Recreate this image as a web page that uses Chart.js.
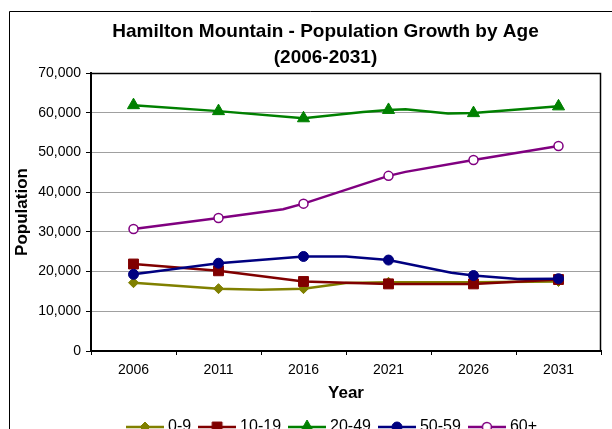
<!DOCTYPE html>
<html><head><meta charset="utf-8">
<script src="https://cdn.jsdelivr.net/npm/chart.js@4.4.1/dist/chart.umd.min.js"></script>
<style>
html,body{margin:0;padding:0;overflow:hidden;background:#fff;width:612px;height:429px}
#wrap{position:absolute;left:0;top:0;width:612px;height:448px}
</style>
</head><body><div id="wrap"><canvas id="c" width="612" height="448"></canvas></div>
<script>
// ---- data ----
const categories = ['2006','2011','2016','2021','2026','2031'];
const markerYears = [2006, 2011, 2016, 2021, 2026, 2031];
const seriesNames = ['0-9', '10-19', '20-49', '50-59', '60+'];

const years0to9 = [2006, 2011, 2013.5, 2016, 2018.5, 2021, 2026, 2031];
const pop0to9   = [17200, 15700, 15400, 15700, 17100, 17300, 17300, 17500];

const years10to19 = [2006, 2011, 2016, 2021, 2026, 2031];
const pop10to19   = [21900, 20200, 17500, 16900, 16900, 18000];

const years20to49 = [2006, 2011, 2016, 2019.5, 2021, 2022, 2024.5, 2026, 2031];
const pop20to49   = [61900, 60400, 58600, 60200, 60700, 60900, 59800, 59900, 61600];

const years50to59 = [2006, 2011, 2016, 2018.5, 2021, 2024.7, 2026, 2028.6, 2031];
const pop50to59   = [19300, 22100, 23800, 23800, 22900, 19700, 19000, 18100, 18200];

const years60plus = [2006, 2011, 2014.8, 2016, 2021, 2022, 2026, 2031];
const pop60plus   = [30700, 33500, 35700, 37100, 44100, 45100, 48100, 51600];

const yTickStep = 10000;
const yMax = 70000;

// ---- styles ----
const colors = ['#808000', '#800000', '#008000', '#000080', '#800080'];
const pStyles = ['rectRot', 'rect', 'triangle', 'circle', 'circle'];
const pRadius = [5, 7, 7, 5, 4.5];
const pFill = ['#808000', '#800000', '#008000', '#000080', '#ffffff'];
const FONT = "'Liberation Sans', Arial, Helvetica, sans-serif";

const seriesYears = [years0to9, years10to19, years20to49, years50to59, years60plus];
const seriesVals = [pop0to9, pop10to19, pop20to49, pop50to59, pop60plus];

function drawMarker(ctx, style, x, y, r, fill, stroke, lw) {
  ctx.beginPath();
  if (style === 'rectRot') {
    ctx.moveTo(x, y - r); ctx.lineTo(x + r, y); ctx.lineTo(x, y + r); ctx.lineTo(x - r, y); ctx.closePath();
  } else if (style === 'rect') {
    const s = r * Math.SQRT1_2; ctx.rect(x - s, y - s, 2 * s, 2 * s);
  } else if (style === 'triangle') {
    ctx.moveTo(x, y - r);
    ctx.lineTo(x + r * Math.sin(2 * Math.PI / 3), y - r * Math.cos(2 * Math.PI / 3));
    ctx.lineTo(x + r * Math.sin(4 * Math.PI / 3), y - r * Math.cos(4 * Math.PI / 3));
    ctx.closePath();
  } else {
    ctx.arc(x, y, r, 0, Math.PI * 2);
  }
  ctx.fillStyle = fill; ctx.fill();
  ctx.strokeStyle = stroke; ctx.lineWidth = lw; ctx.stroke();
}

const legendIcons = colors.map((c, i) => {
  const cv = document.createElement('canvas');
  cv.width = 38; cv.height = 16;
  const g = cv.getContext('2d');
  g.strokeStyle = c; g.lineWidth = 2.5;
  g.beginPath(); g.moveTo(0, 8); g.lineTo(38, 8); g.stroke();
  drawMarker(g, pStyles[i], 19, 8, pRadius[i], pFill[i], c, i === 4 ? 1.5 : 1);
  return cv;
});

const datasets = seriesNames.map((name, i) => ({
  label: name,
  data: seriesYears[i].map((yr, k) => ({ x: yr, y: seriesVals[i][k] })),
  xAxisID: 'x2',
  yAxisID: 'y',
  borderColor: colors[i],
  backgroundColor: pFill[i],
  borderWidth: 2.5,
  tension: 0,
  pointStyle: pStyles[i],
  pointRadius: ctx => (ctx.raw && markerYears.includes(ctx.raw.x)) ? pRadius[i] : 0,
  pointHoverRadius: 0,
  pointBorderColor: colors[i],
  pointBackgroundColor: pFill[i],
  pointBorderWidth: i === 4 ? 1.5 : 1,
  order: 5 - i
}));

const framePlugin = {
  id: 'frame',
  beforeDraw(chart) {
    const ctx = chart.ctx;
    ctx.save();
    ctx.fillStyle = '#fff';
    ctx.fillRect(0, 0, chart.width, chart.height);
    ctx.strokeStyle = '#000';
    ctx.lineWidth = 1;
    ctx.beginPath();
    ctx.moveTo(9.5, chart.height);
    ctx.lineTo(9.5, 11.5);
    ctx.lineTo(chart.width, 11.5);
    ctx.stroke();
    ctx.restore();
  },
  beforeDatasetsDraw(chart) {
    const { left, top, right, bottom } = chart.chartArea;
    const ctx = chart.ctx;
    ctx.save();
    ctx.strokeStyle = '#000';
    ctx.lineWidth = 1.5;
    ctx.beginPath();
    ctx.moveTo(left, top + 0.5);
    ctx.lineTo(right - 0.5, top + 0.5);
    ctx.lineTo(right - 0.5, bottom);
    ctx.stroke();
    ctx.restore();
  },
  afterLayout(chart) {
    // the original chart frame extends past the right edge of the picture,
    // so its title and legend are centred further right than the canvas centre
    if (chart.titleBlock) { chart.titleBlock.left += 20; chart.titleBlock.right += 20; }
    if (chart.legend) {
      chart.legend.left += 28; chart.legend.right += 28;
      chart.legend.top += 2; chart.legend.bottom += 2;
    }
  }
};

Chart.defaults.color = '#000';
Chart.defaults.font.family = FONT;

new Chart(document.getElementById('c'), {
  type: 'line',
  data: { labels: categories, datasets },
  options: {
    responsive: false,
    animation: false,
    devicePixelRatio: 1,
    layout: { padding: { left: 10, top: 12, right: 11, bottom: 5 } },
    plugins: {
      title: {
        display: true,
        text: ['Hamilton Mountain - Population Growth by Age', '(2006-2031)'],
        font: { family: FONT, size: 19, weight: 'bold', lineHeight: 26 / 19 },
        color: '#000',
        padding: { top: 7, bottom: 2 }
      },
      legend: {
        position: 'bottom',
        labels: {
          usePointStyle: true,
          pointStyleWidth: 30,
          padding: 11,
          color: '#000',
          font: { family: FONT, size: 16 },
          sort: (a, b) => a.datasetIndex - b.datasetIndex,
          generateLabels(chart) {
            const items = Chart.defaults.plugins.legend.labels.generateLabels(chart);
            items.forEach(it => { it.pointStyle = legendIcons[it.datasetIndex]; });
            return items;
          }
        }
      },
      tooltip: { enabled: false }
    },
    scales: {
      x: {
        type: 'category',
        position: 'bottom',
        offset: true,
        afterFit(scale) { scale.height = 55; },
        grid: { display: true, offset: true, drawOnChartArea: false, drawTicks: true, tickLength: 4, color: '#000', tickColor: '#000', lineWidth: 1 },
        border: { display: true, color: '#000', width: 2 },
        ticks: { font: { family: FONT, size: 14 }, color: '#000', padding: 7, maxRotation: 0, autoSkip: false },
        title: { display: true, text: 'Year', font: { family: FONT, size: 17, weight: 'bold', lineHeight: 1.2 }, color: '#000', padding: { top: 0, bottom: 2 } }
      },
      x2: {
        type: 'linear',
        position: 'bottom',
        display: false,
        min: 2003.5,
        max: 2033.5
      },
      y: {
        type: 'linear',
        position: 'left',
        min: 0,
        max: yMax,
        afterFit(scale) { scale.width = 81; },
        grid: { color: '#a0a0a0', lineWidth: 1, tickColor: '#000', tickLength: 5, drawTicks: true },
        border: { display: true, color: '#000', width: 2 },
        ticks: {
          stepSize: yTickStep,
          font: { family: FONT, size: 14 },
          color: '#000',
          padding: 5,
          callback: v => Number(v).toLocaleString('en-US')
        },
        title: { display: true, text: 'Population', font: { family: FONT, size: 17, weight: 'bold', lineHeight: 1.2 }, color: '#000', padding: { top: 2, bottom: 0 } }
      }
    }
  },
  plugins: [framePlugin]
});
</script>
</body></html>
